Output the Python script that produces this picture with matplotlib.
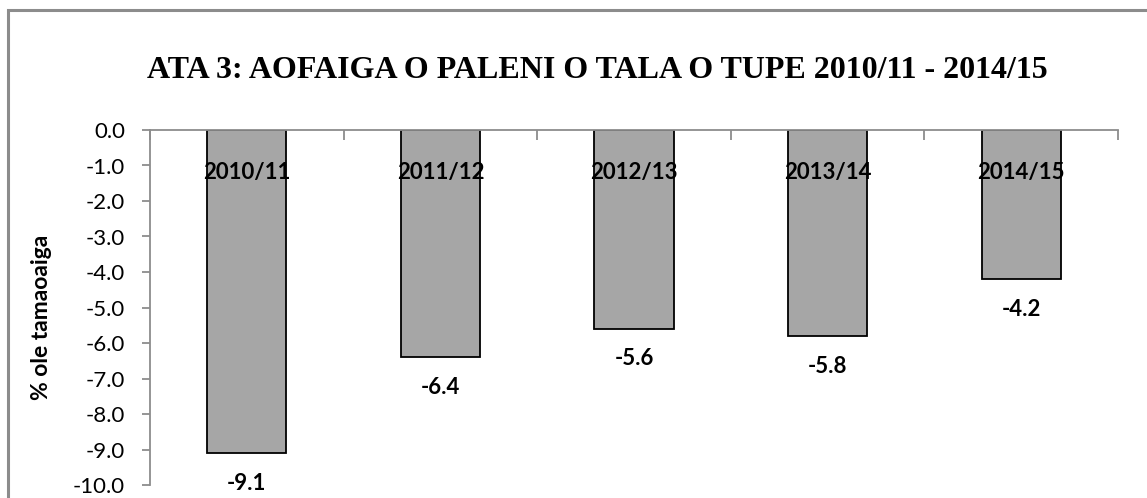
import matplotlib.pyplot as plt
from matplotlib.patches import Rectangle

years = ["2010/11", "2011/12", "2012/13", "2013/14", "2014/15"]
balance = [-9.1, -6.4, -5.6, -5.8, -4.2]
yticks = [0.0, -1.0, -2.0, -3.0, -4.0, -5.0, -6.0, -7.0, -8.0, -9.0, -10.0]

title = "ATA 3: AOFAIGA O PALENI O TALA O TUPE 2010/11 - 2014/15"
ylabel = "% ole tamaoaiga"

W, H = 1147, 498
fig = plt.figure(figsize=(W / 100, H / 100), dpi=100)
fig.patch.set_facecolor("white")

# outer chart frame (runs off the right and bottom edge)
fig.patches.append(Rectangle((8 / W, -0.05), 1.1, (H - 10) / H + 0.05,
                             transform=fig.transFigure, fill=False,
                             edgecolor="#8c8c8c", linewidth=2.2))

ax = fig.add_axes([150 / W, 1 - 485 / H, (1118 - 150) / W, 355 / H])
x = list(range(len(years)))
ax.bar(x, balance, width=0.41, color="#a6a6a6", edgecolor="black", linewidth=1.3)

ax.set_xlim(-0.5, len(years) - 0.5)
ax.set_ylim(-10, 0)
ax.set_yticks(yticks)
ax.set_yticklabels([f"{v:.1f}" for v in yticks], fontsize=16, family="Lato")
ax.tick_params(axis="y", direction="out", length=6, color="#8c8c8c", width=1.3, pad=12)

ax.xaxis.tick_top()
ax.set_xticks([i - 0.5 for i in range(len(years) + 1)])
ax.set_xticklabels([])
ax.tick_params(axis="x", direction="in", length=7, color="#8c8c8c", width=1.3)

for s in ["right", "bottom"]:
    ax.spines[s].set_visible(False)
for s in ["left", "top"]:
    ax.spines[s].set_color("#8c8c8c")
    ax.spines[s].set_linewidth(1.3)

for i, (lab, v) in enumerate(zip(years, balance)):
    ax.text(i, -1.2, lab, ha="center", va="center", fontsize=16,
            fontweight="bold", family="Lato")
    ax.text(i, v - 0.85, f"{v:.1f}", ha="center", va="center", fontsize=16,
            fontweight="bold", family="Lato")

ax.set_ylabel(ylabel, fontsize=16.5, fontweight="bold", family="Lato")
ax.yaxis.set_label_coords(-98 / 968, (485 - 317) / 355)

fig.text(597 / W, 1 - 70 / H, title, ha="center", va="center",
         fontsize=23, fontweight="bold", family="Liberation Serif")

fig.savefig("out.png", dpi=100)
